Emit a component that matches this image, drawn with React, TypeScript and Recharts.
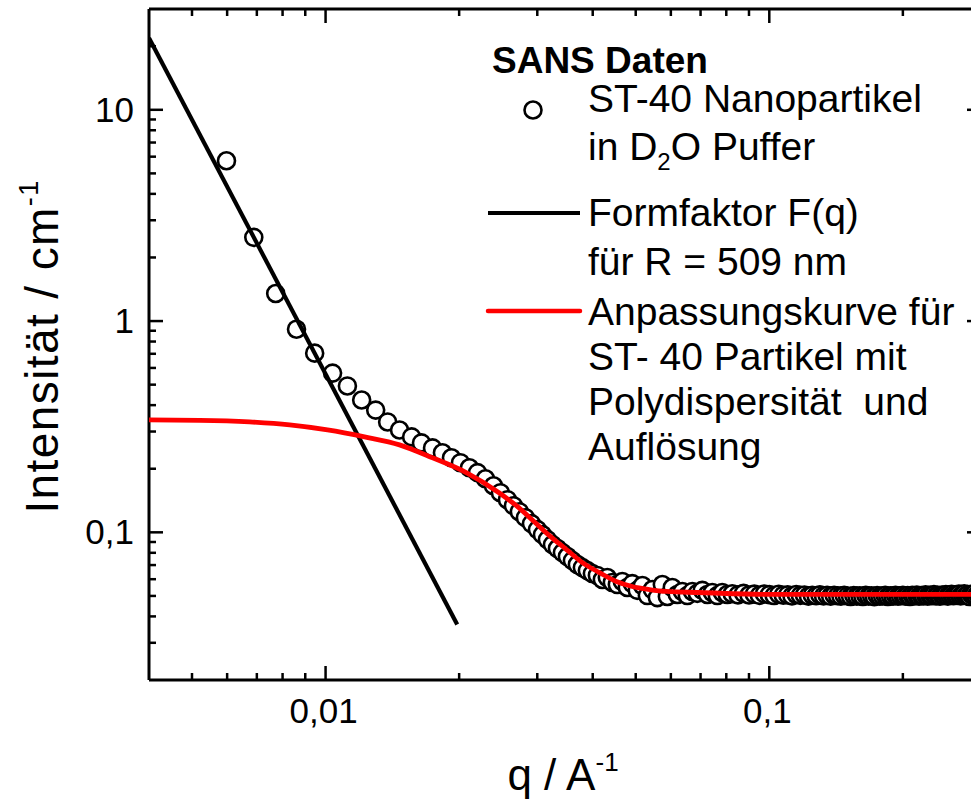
import React from 'react';
import { ComposedChart, XAxis, YAxis, Scatter, Line, Legend, Label } from 'recharts';

const FONT = "Arial, 'Liberation Sans', sans-serif";

// SANS data: [q (1/A), intensity (1/cm)]
const sansData: [number, number][] = [
  [0.00598, 5.74], [0.00689, 2.49], [0.00772, 1.35], [0.0086, 0.915], [0.00945, 0.705],
  [0.01037, 0.567], [0.0112, 0.493], [0.01206, 0.423], [0.01297, 0.379], [0.0138, 0.333],
  [0.01468, 0.305], [0.01563, 0.283], [0.01645, 0.265], [0.01742, 0.251], [0.01834, 0.238],
  [0.01922, 0.2254], [0.02014, 0.2136], [0.0211, 0.2022], [0.022, 0.1916], [0.02293, 0.1793],
  [0.0239, 0.1662], [0.02478, 0.154], [0.0257, 0.1427], [0.02651, 0.1337], [0.02734, 0.1252],
  [0.02821, 0.1173], [0.02911, 0.11], [0.03003, 0.103], [0.03082, 0.0975], [0.03162, 0.0924],
  [0.03246, 0.0875], [0.03331, 0.0838], [0.03418, 0.0802], [0.03508, 0.0768], [0.036, 0.0735],
  [0.03694, 0.0704], [0.03791, 0.0681], [0.03891, 0.0659], [0.03993, 0.0638], [0.04098, 0.0625],
  [0.04205, 0.0598], [0.04315, 0.0611], [0.04429, 0.0579], [0.04545, 0.0566], [0.04664, 0.0585],
  [0.04786, 0.0548], [0.04911, 0.0572], [0.05041, 0.0531], [0.05176, 0.056], [0.05311, 0.0502],
  [0.05452, 0.0536], [0.05594, 0.0491], [0.05741, 0.0566], [0.05892, 0.0497], [0.06045, 0.0548],
  [0.06204, 0.0508], [0.06368, 0.0525], [0.06535, 0.0502], [0.06707, 0.0525], [0.06883, 0.0514],
  [0.07064, 0.0531], [0.07251, 0.0508], [0.07439, 0.0519], [0.07636, 0.0502], [0.07834, 0.0519],
  [0.0804, 0.0508], [0.0825, 0.0512], [0.085, 0.0506], [0.0875, 0.0514], [0.09, 0.0505],
  [0.0925, 0.051], [0.095, 0.0503], [0.0975, 0.0511], [0.1, 0.0507], [0.1025, 0.0502],
  [0.105, 0.0509], [0.1075, 0.0504], [0.11, 0.0506], [0.1125, 0.05], [0.115, 0.0508],
  [0.1175, 0.0503], [0.12, 0.0505], [0.1225, 0.0499], [0.125, 0.0504], [0.1275, 0.0501],
  [0.13, 0.0506], [0.1325, 0.05], [0.135, 0.0503], [0.1375, 0.0498], [0.14, 0.0504],
  [0.1425, 0.0501], [0.145, 0.0499], [0.1475, 0.0503], [0.15, 0.05], [0.1525, 0.0497],
  [0.155, 0.0502], [0.1575, 0.0499], [0.16, 0.0501], [0.1625, 0.0497], [0.165, 0.0503],
  [0.1675, 0.0499], [0.17, 0.0501], [0.1725, 0.0496], [0.175, 0.0502], [0.1775, 0.0498],
  [0.18, 0.05], [0.1825, 0.0503], [0.185, 0.0497], [0.1875, 0.0501], [0.19, 0.0499],
  [0.1925, 0.0503], [0.195, 0.0498], [0.1975, 0.0501], [0.2, 0.0504], [0.2025, 0.0499],
  [0.205, 0.0502], [0.2075, 0.0497], [0.21, 0.0503], [0.2125, 0.05], [0.215, 0.0505],
  [0.2175, 0.0498], [0.22, 0.0502], [0.2225, 0.05], [0.225, 0.0506], [0.2275, 0.0499],
  [0.23, 0.0503], [0.2325, 0.0501], [0.235, 0.0507], [0.2375, 0.05], [0.24, 0.0504],
  [0.2425, 0.0498], [0.245, 0.0505], [0.2475, 0.0502], [0.25, 0.0507], [0.2525, 0.0499],
  [0.255, 0.0504], [0.2575, 0.0509], [0.26, 0.0501], [0.2625, 0.0506], [0.265, 0.0503],
  [0.2675, 0.051], [0.27, 0.05], [0.2725, 0.0506], [0.275, 0.0512], [0.2775, 0.0502],
  [0.28, 0.0507], [0.2825, 0.0497], [0.285, 0.0509], [0.2875, 0.0504], [0.29, 0.0511],
  [0.2925, 0.05], [0.295, 0.0508], [0.2975, 0.0503],
];

// Form factor F(q) for R = 509 nm (straight in log-log)
const formFactor: [number, number][] = [
  [0.004, 21.9],
  [0.0198, 0.0366],
];

// Fit curve with polydispersity and resolution
const fitCurve: [number, number][] = [
  [0.004, 0.3404], [0.0052, 0.339], [0.00674, 0.3332], [0.0083, 0.3225], [0.0101, 0.3054],
  [0.01224, 0.283], [0.01468, 0.2595], [0.01742, 0.2253], [0.0208, 0.1913], [0.0246, 0.154],
  [0.02692, 0.1337], [0.0292, 0.1148], [0.03195, 0.0965], [0.0349, 0.0829], [0.03791, 0.0719],
  [0.0414, 0.0645], [0.04522, 0.0585], [0.0491, 0.0554], [0.05367, 0.0536], [0.0586, 0.0525],
  [0.06956, 0.0519], [0.1, 0.0508], [0.3, 0.0508],
];

const xTicks = [0.005, 0.006, 0.007, 0.008, 0.009, 0.01, 0.02, 0.03, 0.04, 0.05, 0.06, 0.07, 0.08, 0.09, 0.1, 0.2, 0.3];
const yTicks = [0.03, 0.04, 0.05, 0.06, 0.07, 0.08, 0.09, 0.1, 0.2, 0.3, 0.4, 0.5, 0.6, 0.7, 0.8, 0.9, 1, 2, 3, 4, 5, 6, 7, 8, 9, 10, 20];
const xLabels: Record<string, string> = { '0.01': '0,01', '0.1': '0,1' };
const yLabels: Record<string, string> = { '0.1': '0,1', '1': '1', '10': '10' };

const toPts = (arr: [number, number][]) => arr.map(([q, I]) => ({ q, I }));
const sansPts = toPts(sansData);
const formPts = toPts(formFactor);
const fitPts = toPts(fitCurve);

const isMajor = (v: number) => Math.abs(Math.log10(v) - Math.round(Math.log10(v))) < 1e-6;
const TICK_W = 2.5;
const MAJ = 14;
const MIN = 7;
const TICK_FONT = 35;

const BottomTick = (props: any) => {
  const { x, y, payload } = props;
  const v = payload.value;
  const len = isMajor(v) ? MAJ : MIN;
  const lab = xLabels[String(v)];
  return (
    <g>
      <line x1={x} y1={y} x2={x} y2={y - len} stroke="#000" strokeWidth={TICK_W} />
      {lab && (
        <text x={x - 2} y={y + 43} textAnchor="middle" fontSize={TICK_FONT} fontFamily={FONT} fill="#000">{lab}</text>
      )}
    </g>
  );
};
const TopTick = (props: any) => {
  const { x, y, payload } = props;
  const len = isMajor(payload.value) ? MAJ : MIN;
  return <line x1={x} y1={y} x2={x} y2={y + len} stroke="#000" strokeWidth={TICK_W} />;
};
const LeftTick = (props: any) => {
  const { x, y, payload } = props;
  const v = payload.value;
  const len = isMajor(v) ? MAJ : MIN;
  const lab = yLabels[String(v)];
  return (
    <g>
      <line x1={x} y1={y} x2={x + len} y2={y} stroke="#000" strokeWidth={TICK_W} />
      {lab && (
        <text x={x - 15} y={y + 12} textAnchor="end" fontSize={TICK_FONT} fontFamily={FONT} fill="#000">{lab}</text>
      )}
    </g>
  );
};
const RightTick = (props: any) => {
  const { x, y, payload } = props;
  const len = isMajor(payload.value) ? MAJ : MIN;
  return <line x1={x} y1={y} x2={x - len} y2={y} stroke="#000" strokeWidth={TICK_W} />;
};

const CircleShape = (props: any) => {
  const { cx, cy } = props;
  if (cx == null || cy == null) return null;
  return <circle cx={cx} cy={cy} r={8.5} fill="#fff" stroke="#000" strokeWidth={2.6} />;
};

const XTitle = (props: any) => {
  const vb = props.viewBox || { x: 149, y: 680, width: 832 };
  return (
    <text x={vb.x + vb.width / 2 - 2} y={vb.y + 110} textAnchor="middle" fontSize={44} fontFamily={FONT} fill="#000">
      q / A<tspan dy={-19} fontSize={26}>-1</tspan>
    </text>
  );
};
const YTitle = (props: any) => {
  const vb = props.viewBox || { x: 148, y: 9, width: 1, height: 671 };
  const cx = vb.x + (vb.width || 0) - 91;
  const cy = vb.y + vb.height / 2 + 2;
  return (
    <text x={cx} y={cy} transform={`rotate(-90, ${cx}, ${cy})`} textAnchor="middle" fontSize={46} letterSpacing={1.4} fontFamily={FONT} fill="#000">
      Intensität / cm<tspan dy={-20} fontSize={27}>-1</tspan>
    </text>
  );
};

const LegendBox = () => (
  <svg width={490} height={450} style={{ overflow: 'visible', display: 'block' }} fontFamily={FONT}>
    <text x={12} y={43} fontSize={37} fontWeight="bold" fill="#000">SANS Daten</text>
    <circle cx={53} cy={80} r={8.5} fill="#fff" stroke="#000" strokeWidth={2.6} />
    <text x={108} y={82} fontSize={39} fill="#000">ST-40 Nanopartikel</text>
    <text x={108} y={130} fontSize={39} fill="#000">
      in D<tspan dy={10} fontSize={24}>2</tspan><tspan dy={-10}>O Puffer</tspan>
    </text>
    <line x1={8} x2={100} y1={183} y2={183} stroke="#000" strokeWidth={4} />
    <text x={108} y={196} fontSize={39} fill="#000">Formfaktor F(q)</text>
    <text x={108} y={245} fontSize={39} fill="#000">für R = 509 nm</text>
    <line x1={8} x2={100} y1={281} y2={281} stroke="#ff0000" strokeWidth={4.5} strokeLinecap="round" />
    <text x={108} y={295} fontSize={39} fill="#000">Anpassungskurve für</text>
    <text x={108} y={340} fontSize={39} fill="#000" style={{ whiteSpace: 'pre' }}>ST- 40 Partikel mit</text>
    <text x={108} y={385} fontSize={39} fill="#000" style={{ whiteSpace: 'pre' }}>Polydispersität  und</text>
    <text x={108} y={430} fontSize={39} fill="#000">Auflösung</text>
  </svg>
);

export default function App() {
  return (
    <div style={{ position: 'absolute', left: 0, top: 0, width: 971, height: 806, overflow: 'hidden', background: '#fff' }}>
      <ComposedChart width={1000} height={806} margin={{ top: 8, right: 18, bottom: 125, left: 148 }}>
        <XAxis
          xAxisId={0}
          dataKey="q"
          type="number"
          scale="log"
          domain={[0.004, 0.3]}
          allowDataOverflow
          ticks={xTicks}
          interval={0}
          height={1}
          tickSize={0}
          tickMargin={0}
          tickLine={false}
          tick={BottomTick}
          axisLine={{ stroke: '#000', strokeWidth: 3 }}
        >
          <Label content={XTitle} />
        </XAxis>
        <XAxis
          xAxisId="top"
          orientation="top"
          dataKey="q"
          type="number"
          scale="log"
          domain={[0.004, 0.3]}
          allowDataOverflow
          ticks={xTicks}
          interval={0}
          height={1}
          tickSize={0}
          tickMargin={0}
          tickLine={false}
          tick={TopTick}
          axisLine={{ stroke: '#000', strokeWidth: 3 }}
        />
        <YAxis
          yAxisId={0}
          dataKey="I"
          type="number"
          scale="log"
          domain={[0.02, 30]}
          allowDataOverflow
          ticks={yTicks}
          interval={0}
          width={1}
          tickSize={0}
          tickMargin={0}
          tickLine={false}
          tick={LeftTick}
          axisLine={{ stroke: '#000', strokeWidth: 3 }}
        >
          <Label content={YTitle} />
        </YAxis>
        <YAxis
          yAxisId="right"
          orientation="right"
          dataKey="I"
          type="number"
          scale="log"
          domain={[0.02, 30]}
          allowDataOverflow
          ticks={yTicks}
          interval={0}
          width={1}
          tickSize={0}
          tickMargin={0}
          tickLine={false}
          tick={RightTick}
          axisLine={{ stroke: '#000', strokeWidth: 3 }}
        />
        <Scatter data={sansPts} dataKey="I" shape={CircleShape} isAnimationActive={false} />
        <Line data={formPts} dataKey="I" type="linear" stroke="#000" strokeWidth={4.2} dot={false} activeDot={false} isAnimationActive={false} zIndex={700} />
        <Line data={fitPts} dataKey="I" type="monotone" stroke="#ff0000" strokeWidth={4.8} dot={false} activeDot={false} isAnimationActive={false} zIndex={710} />
        <Legend
          layout="horizontal"
          verticalAlign="middle"
          align="center"
          content={LegendBox}
          wrapperStyle={{ position: 'absolute', left: 480, top: 30, width: 490, height: 450 }}
        />
      </ComposedChart>
    </div>
  );
}
